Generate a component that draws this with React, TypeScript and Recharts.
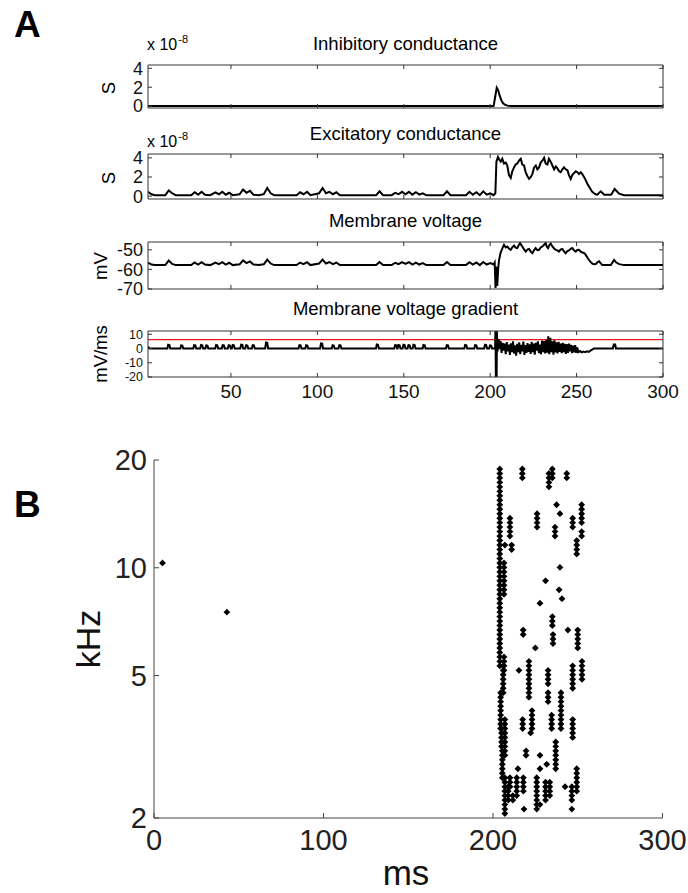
import React from "react";
import { LineChart, Line, XAxis, YAxis, ReferenceLine, ScatterChart, Scatter } from "recharts";

const FONT = '"Liberation Sans", Arial, Helvetica, sans-serif';

// panel A: time axis shared by the four traces
const TIME_DOMAIN: [number, number] = [2, 300];
const TIME_TICKS = [50, 100, 150, 200, 250, 300];
const COND_TICKS = [0, 2, 4];
const VOLT_TICKS = [-70, -60, -50];
const GRAD_TICKS = [-20, -10, 0, 10];
const GRAD_THRESHOLD = 6.3;

// [ms, x1e-8 S]
const inhibitory: [number, number][] = [
  [2, 0], [202, 0], [203, 1.1], [203.8, 1.95], [204.6, 1.7], [205.5, 1.1], [206.5, 0.6],
  [207.5, 0.3], [208.5, 0.15], [210, 0.05], [212, 0], [300, 0],
];

// [ms, x1e-8 S]
const excitatory: [number, number][] = [
  [2, 0.45], [4, 0.2], [6, 0.1], [12, 0.1], [14, 0.6], [16, 0.3], [18, 0.1], [27, 0.1], [29, 0.4],
  [31, 0.15], [33, 0.45], [35, 0.15], [38, 0.1], [41, 0.4], [43, 0.2], [45, 0.45], [47, 0.15],
  [49, 0.35], [51, 0.1], [55, 0.2], [57, 0.7], [59, 0.35], [61, 0.55], [63, 0.15], [66, 0.1],
  [69, 0.2], [71, 0.85], [73, 0.3], [75, 0.1], [88, 0.1], [90, 0.4], [92, 0.2], [94, 0.45],
  [96, 0.1], [101, 0.3], [103, 0.85], [105, 0.3], [107, 0.45], [109, 0.2], [111, 0.4], [113, 0.1],
  [134, 0.1], [136, 0.5], [138, 0.1], [143, 0.1], [145, 0.35], [147, 0.2], [149, 0.45], [151, 0.2],
  [153, 0.45], [155, 0.15], [157, 0.4], [159, 0.15], [161, 0.3], [163, 0.1], [173, 0.1], [175, 0.5],
  [177, 0.1], [186, 0.1], [188, 0.45], [190, 0.15], [192, 0.4], [194, 0.1], [196, 0.5], [198, 0.15],
  [200, 0.3], [202, 0.1], [203, 0.3], [203.6, 3.6], [204.5, 4.1], [205.3, 3.8], [206.1, 3.6],
  [207, 3.9], [208, 3.4], [209, 3.5], [209.9, 3.2], [210.9, 2.2], [211.9, 1.9], [212.8, 2.6],
  [213.8, 3.0], [214.7, 3.3], [215.7, 3.4], [216.7, 3.7], [217.7, 3.9], [218.6, 3.3], [219.6, 3.2],
  [220.5, 2.5], [221.5, 2.1], [222.5, 1.8], [223.5, 2.0], [224.4, 2.3], [225.4, 3.0], [226.4, 3.2],
  [227.3, 2.8], [228.3, 3.0], [229.2, 3.5], [230.2, 3.7], [231.2, 4.0], [232.1, 3.4], [233.1, 3.3],
  [234, 3.9], [235, 3.6], [236, 3.2], [237, 2.8], [238, 3.1], [238.9, 2.9], [239.9, 2.6],
  [240.8, 2.5], [241.8, 2.8], [242.7, 3.0], [243.7, 2.8], [244.7, 2.7], [245.6, 2.2], [246.6, 1.8],
  [247.5, 2.2], [248.5, 2.4], [249.5, 2.6], [250.4, 2.5], [251.4, 2.3], [252.4, 2.5], [253.3, 2.3],
  [254.3, 2.0], [255.2, 1.7], [256.2, 1.3], [257.2, 1.0], [258.2, 0.7], [259.1, 0.45], [260.1, 0.3],
  [261, 0.2], [262, 0.15], [264, 0.5], [266, 0.15], [270, 0.15], [272, 0.75], [274.6, 0.25],
  [277.5, 0.1], [300, 0.1],
];

// [ms, mV]
const voltage: [number, number][] = [
  [2, -56.5], [4, -57.5], [6, -57.8], [12, -57.8], [14, -55.5], [16, -57.2], [18, -57.8], [27, -57.8],
  [29, -56.5], [31, -57.5], [33, -56.3], [35, -57.5], [38, -57.8], [41, -56.5], [43, -57.3],
  [45, -56.3], [47, -57.5], [49, -56.6], [51, -57.8], [55, -57.4], [57, -55.4], [59, -56.8],
  [61, -55.9], [63, -57.5], [66, -57.8], [69, -57.4], [71, -55.0], [73, -57.0], [75, -57.8],
  [88, -57.8], [90, -56.5], [92, -57.3], [94, -56.3], [96, -57.8], [101, -57.0], [103, -55.0],
  [105, -57.0], [107, -56.3], [109, -57.3], [111, -56.5], [113, -57.8], [134, -57.8], [136, -56.2],
  [138, -57.8], [143, -57.8], [145, -56.6], [147, -57.3], [149, -56.3], [151, -57.2], [153, -56.3],
  [155, -57.5], [157, -56.5], [159, -57.5], [161, -56.8], [163, -57.8], [173, -57.8], [175, -56.2],
  [177, -57.8], [186, -57.8], [188, -56.3], [190, -57.5], [192, -56.5], [194, -57.8], [196, -56.2],
  [198, -57.5], [200, -56.8], [202, -57.5], [202.6, -56.5], [203.1, -69.5], [203.6, -58.5],
  [204.1, -68.5], [204.6, -60], [205.1, -55.5], [206, -51.5], [207.1, -49.1], [208, -47.4],
  [209, -48.8], [209.9, -48.3], [210.9, -49.4], [211.9, -50], [212.8, -48.7], [213.8, -47.8],
  [214.7, -48.9], [215.7, -49.1], [216.5, -47.6], [217.3, -46.5], [218, -47.6], [218.6, -48.3],
  [219.6, -49.8], [220.6, -50.9], [221.5, -49.9], [222.5, -49.6], [223.5, -50.9], [224.4, -51.7],
  [225.4, -50.2], [226.3, -49.1], [227.3, -50.2], [228.3, -50], [229.2, -48.8], [230.2, -48.3],
  [231.2, -47.4], [232.1, -46.5], [232.8, -48.4], [233.5, -49.1], [234.3, -47.5], [235, -46.8],
  [236, -48.3], [237, -49.3], [237.9, -50], [238.9, -50.3], [239.8, -50.9], [240.8, -49.8],
  [241.8, -49.6], [242.7, -50.8], [243.7, -51.7], [244.7, -50.6], [245.6, -50.3], [246.6, -49.5],
  [247.5, -49.1], [248.5, -50.2], [249.5, -50.9], [250.4, -50.1], [251.4, -50], [252.4, -50.9],
  [253.3, -51.4], [254.3, -51.6], [255.3, -52.6], [256.2, -53.9], [257.2, -55.2], [258.2, -56.3],
  [259.1, -57], [260.1, -57.4], [261.1, -57.3], [262, -56.4], [263, -55.9], [264, -56.9],
  [264.9, -57.8], [269.8, -57.8], [271.7, -55.2], [273, -56.5], [274.6, -57.3], [277.5, -57.8],
  [300, -57.8],
];

// [ms, mV/ms]
const gradient: [number, number][] = [
  [2, 1.2], [3, 0],
  [13.2, 0], [13.7, 2.6], [14.4, 2.4], [14.9, 0],
  [20.7, 0], [21.2, 2.2], [21.9, 2.0], [22.4, 0],
  [28.2, 0], [28.7, 2.4], [29.4, 2.2], [29.9, 0],
  [32.2, 0], [32.7, 2.5], [33.4, 2.3], [33.9, 0],
  [35.2, 0], [35.7, 2.2], [36.4, 2.0], [36.9, 0],
  [40.9, 0], [41.4, 2.5], [42.1, 2.3], [42.6, 0],
  [44.7, 0], [45.2, 2.4], [45.9, 2.2], [46.4, 0],
  [48.2, 0], [48.7, 2.3], [49.4, 2.1], [49.9, 0],
  [50.5, 0], [51, 2.5], [51.7, 2.3], [52.2, 0],
  [55.4, 0], [55.9, 2.7], [56.6, 2.5], [57.1, 0],
  [58.3, 0], [58.8, 2.3], [59.5, 2.1], [60, 0],
  [62.1, 0], [62.6, 2.4], [63.3, 2.2], [63.8, 0],
  [69.8, 0], [70.3, 4.2], [71, 4.0], [71.5, 0],
  [89.1, 0], [89.6, 2.4], [90.3, 2.2], [90.8, 0],
  [93, 0], [93.5, 2.3], [94.2, 2.1], [94.7, 0],
  [101.6, 0], [102.1, 3.6], [102.8, 3.4], [103.3, 0],
  [108.3, 0], [108.8, 2.3], [109.5, 2.1], [110, 0],
  [112.2, 0], [112.7, 2.4], [113.4, 2.2], [113.9, 0],
  [133.9, 0], [134.4, 2.8], [135.1, 2.6], [135.6, 0],
  [144.5, 0], [145, 2.4], [145.7, 2.2], [146.2, 0],
  [146.4, 0], [146.9, 2.5], [147.6, 2.3], [148.1, 0],
  [149.3, 0], [149.8, 2.6], [150.5, 2.4], [151, 0],
  [152.2, 0], [152.7, 2.4], [153.4, 2.2], [153.9, 0],
  [155.1, 0], [155.6, 2.6], [156.3, 2.4], [156.8, 0],
  [160.9, 0], [161.4, 2.5], [162.1, 2.3], [162.6, 0],
  [174.4, 0], [174.9, 2.4], [175.6, 2.2], [176.1, 0],
  [185, 0], [185.5, 2.5], [186.2, 2.3], [186.7, 0],
  [190.8, 0], [191.3, 2.4], [192, 2.2], [192.5, 0],
  [196.5, 0], [197, 2.6], [197.7, 2.4], [198.2, 0],
  [199.4, 0], [199.9, 2.2], [200.6, 2.0], [201.1, 0],
  [202.8, 0], [203.1, 14], [203.3, -25], [203.5, 14], [203.7, -25], [203.9, 12], [204.3, -2],
  [204.7, 6], [205, 6], [205.5, -0.5], [206, 5.2], [206.6, -3], [207.2, 4], [207.8, -1.5],
  [208.4, 3.5], [209, -4], [209.6, 4.5], [210.2, -2], [210.8, 2.8], [211.4, -4.5], [212, 3.6],
  [212.6, -2.5], [213.2, 5], [213.8, -3.5], [214.4, 2.2], [215, -5], [215.6, 3.2], [216.2, -2.5],
  [216.8, 4.4], [217.4, -4], [218, 2.6], [218.6, -2], [219.2, 4.8], [219.8, -4.5], [220.4, 2.4],
  [221, -3], [221.6, 3.8], [222.2, -2.3], [222.8, 3], [223.4, -3.8], [224, 4.6], [224.6, -2.5],
  [225.2, 3.4], [225.8, -4.3], [226.4, 4], [227, -1.5], [227.6, 5], [228.2, -3.3], [228.8, 2.8],
  [229.4, -4], [230, 5.5], [230.6, -2.5], [231.2, 5.3], [231.8, -3.5], [232.4, 6], [233, -3],
  [233.6, 8.5], [234.2, -4], [234.8, 7.5], [235.4, -2.5], [236, 5], [236.6, -4.3], [237.2, 5.7],
  [237.8, -2.7], [238.4, 4.3], [239, -3.5], [239.6, 4.7], [240.2, -2.3], [240.8, 3.5], [241.4, -3.3],
  [242, 4], [242.6, -2.5], [243.2, 3.3], [243.8, -3.7], [244.4, 3], [245, -3], [245.6, 3.5],
  [246.2, -2], [246.8, 2.5], [247.4, -3.3], [248, 2], [248.6, -2.7], [249.2, 2.3], [249.8, -3],
  [250.4, 0.8], [251, -2.6], [252, -1.8], [253, -2.7], [254, -2.2], [255, -2.6], [256, -2],
  [257, -2.4], [258, -1.5], [259, -0.8], [260, 0],
  [271, 0], [271.5, 2.8], [272.3, 2.8], [272.8, 0], [300, 0],
];

// panel B: characteristic frequency of each channel (kHz)
const CHANNEL_KHZ = [
  2.0, 2.058, 2.118, 2.18, 2.244, 2.31, 2.377, 2.446, 2.518, 2.591, 2.667, 2.745, 2.825, 2.908,
  2.993, 3.08, 3.17, 3.262, 3.358, 3.456, 3.557, 3.66, 3.767, 3.877, 3.991, 4.107, 4.227, 4.35,
  4.477, 4.608, 4.743, 4.881, 5.024, 5.17, 5.322, 5.477, 5.637, 5.801, 5.971, 6.145, 6.325, 6.509,
  6.699, 6.895, 7.096, 7.304, 7.517, 7.736, 7.962, 8.195, 8.434, 8.68, 8.934, 9.195, 9.463, 9.739,
  10.024, 10.316, 10.618, 10.928, 11.247, 11.575, 11.913, 12.261, 12.619, 12.988, 13.367, 13.757,
  14.159, 14.572, 14.998, 15.436, 15.887, 16.35, 16.828, 17.319, 17.825, 18.345, 18.881, 19.433, 20.0,
];

// spike runs: [ms, first channel, last channel]
const SPIKE_RUNS: [number, number, number][] = [
  [5, 57, 57], [43, 46, 46],
  [204, 34, 78], [206.5, 50, 57], [207, 61, 61], [211, 60, 61], [210, 63, 67], [206.5, 33, 36],
  [206, 28, 34], [204.5, 20, 28], [207, 14, 22], [205.5, 9, 15], [205, 16, 20], [207, 1, 9],
  [209, 4, 7], [211.7, 4, 5], [210, 7, 9],
  [217.3, 76, 78], [233, 74, 77], [235, 76, 78], [243.5, 76, 77], [237.5, 70, 70], [239.5, 68, 68],
  [252.3, 66, 70], [247, 65, 67], [236.6, 63, 65], [252.3, 63, 64], [249.4, 59, 62], [226, 65, 68],
  [239.5, 56, 56], [231, 53, 53], [239, 51, 51], [240.7, 49, 49], [227.7, 48, 48], [235, 43, 45],
  [217.8, 41, 42], [235.4, 39, 41], [244.2, 42, 42], [250, 38, 42], [225, 38, 38], [215.3, 33, 33],
  [221.2, 27, 35], [232.5, 30, 33], [247, 29, 34], [252.5, 31, 35], [223, 20, 24], [217.5, 20, 22],
  [222.2, 19, 19], [232.5, 26, 28], [234.6, 20, 23], [240.1, 20, 28], [247, 18, 22], [219.5, 14, 15],
  [227.7, 14, 14], [227.7, 11, 11], [231.7, 12, 12], [237, 11, 17], [214.7, 11, 11], [249.4, 6, 11],
  [242.5, 7, 7], [214, 5, 9], [217.9, 6, 9], [225.8, 2, 9], [231, 4, 8], [233.5, 5, 8], [246.5, 4, 7],
  [218.3, 2, 2], [227.7, 3, 3], [246.5, 2, 2],
];
const MS_TICKS = [0, 100, 200, 300];
const KHZ_TICKS = [2, 5, 10, 20];

const rows = (pts: [number, number][]) => pts.map(([t, v]) => ({ t, v }));
const spikes = SPIKE_RUNS.flatMap(([ms, lo, hi]) =>
  CHANNEL_KHZ.slice(lo, hi + 1).map((khz) => ({ ms, khz }))
);

const AXIS = "#333";
const blank = () => "";

function Trace({ top, bottom, data, domain, ticks, showX, threshold, tickFont = 18 }: any) {
  const axTop = 12;
  const axBottom = showX ? 34 : 14;
  return (
    <div style={{ position: "absolute", left: 0, top: top - axTop }}>
      <LineChart
        width={688}
        height={bottom - top + axTop + axBottom}
        data={data}
        margin={{ top: 0, right: 0, bottom: 0, left: 0 }}
      >
        <XAxis
          type="number" dataKey="t" domain={TIME_DOMAIN} ticks={TIME_TICKS} allowDataOverflow
          height={axBottom} tickSize={-4} tickMargin={12} interval={0} stroke={AXIS}
          tick={{ fill: "#111", fontSize: 19 }} tickFormatter={showX ? undefined : blank}
        />
        <XAxis
          xAxisId="top" orientation="top" type="number" dataKey="t" domain={TIME_DOMAIN}
          ticks={TIME_TICKS} allowDataOverflow height={axTop} tickSize={-4} interval={0}
          stroke={AXIS} tickFormatter={blank}
        />
        <YAxis
          type="number" domain={domain} ticks={ticks} allowDataOverflow width={148} tickSize={-4}
          tickMargin={9} interval={0} stroke={AXIS} tick={{ fill: "#111", fontSize: tickFont }}
        />
        <YAxis
          yAxisId="right" orientation="right" type="number" domain={domain} ticks={ticks}
          allowDataOverflow width={25} tickSize={-4} interval={0} stroke={AXIS} tickFormatter={blank}
        />
        {threshold !== undefined && (
          <ReferenceLine y={threshold} stroke="#e8141b" strokeWidth={1.2} />
        )}
        <Line
          type="linear" dataKey="v" stroke="#000" strokeWidth={2} dot={false}
          isAnimationActive={false}
        />
      </LineChart>
    </div>
  );
}

const SpikeMark = (props: any) => {
  const { cx, cy } = props;
  if (cx == null || cy == null) return null;
  const o = 3.4;
  const i = 1.7;
  return (
    <path
      d={`M${cx} ${cy - o}L${cx + i} ${cy - i}L${cx + o} ${cy}L${cx + i} ${cy + i}L${cx} ${cy + o}L${cx - i} ${cy + i}L${cx - o} ${cy}L${cx - i} ${cy - i}Z`}
      fill="#000"
    />
  );
};

export default function App() {
  return (
    <div style={{ position: "relative", width: 688, height: 893, fontFamily: FONT, background: "#fff" }}>
      <style>{"body{margin:0}"}</style>

      <Trace top={65} bottom={108} data={rows(inhibitory)} domain={[-0.2, 4.35]} ticks={COND_TICKS} />
      <Trace top={154} bottom={199} data={rows(excitatory)} domain={[-0.3, 4.4]} ticks={COND_TICKS} />
      <Trace top={242} bottom={289} data={rows(voltage)} domain={[-70, -46]} ticks={VOLT_TICKS} />
      <Trace
        top={331} bottom={377} data={rows(gradient)} domain={[-20, 12.3]} ticks={GRAD_TICKS}
        showX threshold={GRAD_THRESHOLD} tickFont={12.5}
      />

      <div style={{ position: "absolute", left: 0, top: 435 }}>
        <ScatterChart width={688} height={454} margin={{ top: 25, right: 25.5, bottom: 0, left: 0 }}>
          <XAxis
            type="number" dataKey="ms" domain={[0, 300]} ticks={MS_TICKS} allowDataOverflow
            height={71} tickSize={-5} tickMargin={16} interval={0} stroke="#444"
            tick={{ fill: "#222", fontSize: 29 }}
          />
          <YAxis
            type="number" dataKey="khz" scale="log" domain={[2, 20]} ticks={KHZ_TICKS}
            allowDataOverflow width={154} tickSize={-5} tickMargin={12} interval={0} stroke="#444"
            tick={{ fill: "#222", fontSize: 29 }}
          />
          <Scatter data={spikes} shape={SpikeMark} fill="#000" isAnimationActive={false} />
        </ScatterChart>
      </div>

      <svg
        width={688} height={893}
        style={{ position: "absolute", left: 0, top: 0, pointerEvents: "none" }}
        fontFamily={FONT}
      >
        <text x={14} y={37} fontSize={37} fontWeight="bold">A</text>
        <text x={14} y={517} fontSize={37} fontWeight="bold">B</text>

        <text x={405.5} y={50} fontSize={18.5} textAnchor="middle">Inhibitory conductance</text>
        <text x={405.5} y={140} fontSize={18.5} textAnchor="middle">Excitatory conductance</text>
        <text x={405.5} y={227} fontSize={18.5} textAnchor="middle">Membrane voltage</text>
        <text x={405.5} y={315} fontSize={18.5} textAnchor="middle">Membrane voltage gradient</text>

        <text x={147} y={50} fontSize={16}>x 10<tspan dx={1} dy={-7} fontSize={11}>-8</tspan></text>
        <text x={147} y={147} fontSize={16}>x 10<tspan dx={1} dy={-7} fontSize={11}>-8</tspan></text>

        <text transform="translate(115,88) rotate(-90)" fontSize={18.5} textAnchor="middle">S</text>
        <text transform="translate(115,178) rotate(-90)" fontSize={18.5} textAnchor="middle">S</text>
        <text transform="translate(107,266) rotate(-90)" fontSize={18.5} textAnchor="middle">mV</text>
        <text transform="translate(107,354) rotate(-90)" fontSize={18.5} textAnchor="middle">mV/ms</text>

        <text transform="translate(100,639) rotate(-90)" fontSize={34} textAnchor="middle" fill="#111">kHz</text>
        <text x={406} y={885} fontSize={35} textAnchor="middle" fill="#111">ms</text>
      </svg>
    </div>
  );
}
